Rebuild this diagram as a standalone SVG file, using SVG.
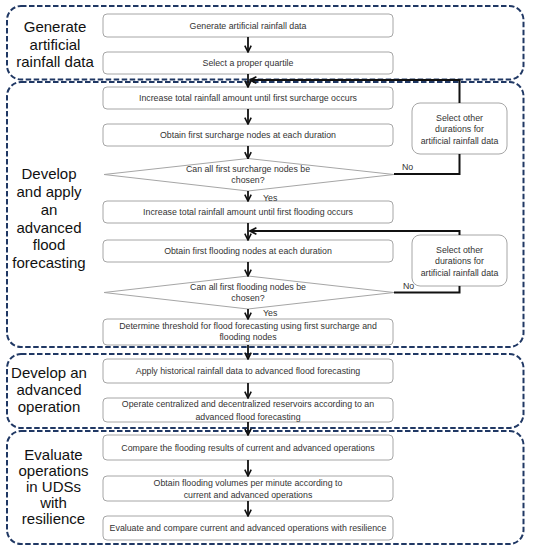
<svg xmlns="http://www.w3.org/2000/svg" width="533" height="550" viewBox="0 0 533 550">
<style>
.grp{fill:none;stroke:#203864;stroke-width:2;stroke-dasharray:5.5 2.5}
.box{fill:#fff;stroke:#a6a6a6;stroke-width:1}
.t{font-family:"Liberation Sans",Arial,sans-serif;font-size:8.8px;fill:#333;text-anchor:middle}
.lbl{font-family:"Liberation Sans",Arial,sans-serif;font-size:15px;fill:#111;text-anchor:middle}
.yn{font-family:"Liberation Sans",Arial,sans-serif;font-size:8.8px;fill:#333}
.ln{fill:none;stroke:#111;stroke-width:1.8}
.lp{fill:none;stroke:#111;stroke-width:2}
</style>
<defs>
<marker id="ah" viewBox="0 0 10 10" refX="9" refY="5" markerWidth="8" markerHeight="8" markerUnits="userSpaceOnUse" orient="auto">
<path d="M1,1 L9,5 L1,9" fill="none" stroke="#111" stroke-width="2"/>
</marker>
</defs>
<rect width="533" height="550" fill="#fff"/>

<g id="group1">
<rect class="grp" x="7" y="6" width="516.5" height="73.5" rx="14"/>
<text class="lbl" x="55" y="32.3">Generate</text>
<text class="lbl" x="55" y="49.8">artificial</text>
<text class="lbl" x="55" y="67.3">rainfall data</text>
</g>
<g id="group2">
<rect class="grp" x="7" y="82" width="516.5" height="265" rx="14"/>
<text class="lbl" x="49" y="179">Develop</text>
<text class="lbl" x="49" y="197">and apply</text>
<text class="lbl" x="49" y="214.5">an</text>
<text class="lbl" x="49" y="232.5">advanced</text>
<text class="lbl" x="49" y="250">flood</text>
<text class="lbl" x="49" y="267.5">forecasting</text>
</g>
<g id="group3">
<rect class="grp" x="7" y="354" width="516.5" height="74" rx="14"/>
<text class="lbl" x="49" y="378">Develop an</text>
<text class="lbl" x="49" y="395">advanced</text>
<text class="lbl" x="49" y="411.5">operation</text>
</g>
<g id="group4">
<rect class="grp" x="7" y="431" width="516.5" height="113" rx="14"/>
<text class="lbl" x="53.5" y="459.5">Evaluate</text>
<text class="lbl" x="53.5" y="475.5">operations</text>
<text class="lbl" x="53.5" y="491.5">in UDSs</text>
<text class="lbl" x="53.5" y="507.5">with</text>
<text class="lbl" x="53.5" y="523.5">resilience</text>
</g>

<g id="n1"><rect class="box" x="103" y="14" width="290" height="23" rx="4"/><text class="t" x="248" y="28.5">Generate artificial rainfall data</text></g>
<g id="n2"><rect class="box" x="103" y="52" width="290" height="22" rx="4"/><text class="t" x="248" y="66">Select a proper quartile</text></g>
<g id="n3"><rect class="box" x="103" y="87" width="290" height="22" rx="4"/><text class="t" x="248" y="101">Increase total rainfall  amount until first surcharge occurs</text></g>
<g id="n4"><rect class="box" x="103" y="124" width="290" height="22" rx="4"/><text class="t" x="248" y="138">Obtain first surcharge nodes at each duration</text></g>
<g id="d1"><polygon class="box" points="248,158.5 394,174.5 248,191 104,174.5"/><text class="t" x="248" y="172">Can all first surcharge nodes be</text><text class="t" x="248" y="183">chosen?</text></g>
<g id="n5"><rect class="box" x="103" y="201" width="290" height="22" rx="4"/><text class="t" x="248" y="215">Increase total rainfall  amount until first flooding occurs</text></g>
<g id="n6"><rect class="box" x="103" y="240" width="290" height="22" rx="4"/><text class="t" x="248" y="254">Obtain first flooding nodes at each duration</text></g>
<g id="d2"><polygon class="box" points="248,276 394,292.5 248,309 104,292.5"/><text class="t" x="248" y="290">Can all first flooding nodes be</text><text class="t" x="248" y="301">chosen?</text></g>
<g id="n7"><rect class="box" x="103" y="319" width="290" height="26" rx="4"/><text class="t" x="248" y="328.5">Determine threshold for flood forecasting using first surcharge and</text><text class="t" x="248" y="340">flooding nodes</text></g>
<g id="n8"><rect class="box" x="103" y="359" width="290" height="24" rx="4"/><text class="t" x="248" y="374">Apply historical rainfall data to advanced flood forecasting</text></g>
<g id="n9"><rect class="box" x="103" y="398" width="290" height="24" rx="4"/><text class="t" x="248" y="407">Operate centralized and decentralized reservoirs according to an</text><text class="t" x="248" y="419.5">advanced flood forecasting</text></g>
<g id="n10"><rect class="box" x="103" y="435" width="290" height="25" rx="4"/><text class="t" x="248" y="450.5">Compare the flooding results of current and advanced operations</text></g>
<g id="n11"><rect class="box" x="103" y="476" width="290" height="25" rx="4"/><text class="t" x="248" y="485.7">Obtain flooding volumes per minute according to</text><text class="t" x="248" y="498.3">current and advanced operations</text></g>
<g id="n12"><rect class="box" x="103" y="516" width="290" height="24" rx="4"/><text class="t" x="248" y="531">Evaluate and compare current and advanced operations with resilience</text></g>
<g id="s1"><rect class="box" x="412" y="103" width="95" height="51" rx="8"/><text class="t" x="459.5" y="121.3">Select other</text><text class="t" x="459.5" y="132.3">durations for</text><text class="t" x="459.5" y="143.5">artificial rainfall  data</text></g>
<g id="s2"><rect class="box" x="412" y="235" width="95" height="51" rx="8"/><text class="t" x="459.5" y="253.3">Select other</text><text class="t" x="459.5" y="264.3">durations for</text><text class="t" x="459.5" y="275.5">artificial rainfall  data</text></g>

<g id="connectors">
<line class="ln" x1="248" y1="37" x2="248" y2="52" marker-end="url(#ah)"/>
<line class="ln" x1="248" y1="74" x2="248" y2="87" marker-end="url(#ah)"/>
<line class="ln" x1="248" y1="109" x2="248" y2="124" marker-end="url(#ah)"/>
<line class="ln" x1="248" y1="146" x2="248" y2="158.5" marker-end="url(#ah)"/>
<line class="ln" x1="248" y1="191" x2="248" y2="201" marker-end="url(#ah)"/>
<line class="ln" x1="248" y1="223" x2="248" y2="240" marker-end="url(#ah)"/>
<line class="ln" x1="248" y1="262" x2="248" y2="276" marker-end="url(#ah)"/>
<line class="ln" x1="248" y1="309" x2="248" y2="319" marker-end="url(#ah)"/>
<line class="ln" x1="248" y1="345" x2="248" y2="359" marker-end="url(#ah)"/>
<line class="ln" x1="248" y1="383" x2="248" y2="398" marker-end="url(#ah)"/>
<line class="ln" x1="248" y1="422" x2="248" y2="435" marker-end="url(#ah)"/>
<line class="ln" x1="248" y1="460" x2="248" y2="476" marker-end="url(#ah)"/>
<line class="ln" x1="248" y1="501" x2="248" y2="516" marker-end="url(#ah)"/>
<polyline class="lp" points="394,174 459.5,174 459.5,154"/>
<polyline class="lp" points="459.5,103 459.5,80 250,80" marker-end="url(#ah)"/>
<polyline class="lp" points="394,292.5 459.5,292.5 459.5,286"/>
<polyline class="lp" points="459.5,235 459.5,231 250,231" marker-end="url(#ah)"/>
<text class="yn" x="402" y="170">No</text>
<text class="yn" x="403" y="289">No</text>
<text class="yn" x="263" y="200.5">Yes</text>
<text class="yn" x="263" y="315.5">Yes</text>
</g>
</svg>
